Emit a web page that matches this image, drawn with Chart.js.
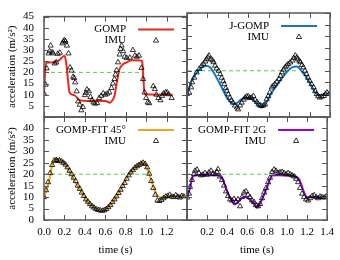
<!DOCTYPE html>
<html>
<head>
<meta charset="utf-8">
<script src="https://cdn.jsdelivr.net/npm/chart.js@4.4.0/dist/chart.umd.min.js"></script>
<style>
  html, body { margin: 0; padding: 0; background: #fff; }
  #wrap { position: relative; width: 340px; height: 260px; }
  #wrap canvas { position: absolute; left: 0; top: 0; }
</style>
</head>
<body>
<div id="wrap">
  <canvas id="tl" width="340" height="260"></canvas>
  <canvas id="tr" width="340" height="260"></canvas>
  <canvas id="bl" width="340" height="260"></canvas>
  <canvas id="br" width="340" height="260"></canvas>
</div>
<script>
// ticks
const xTickVals = [0, 0.2, 0.4, 0.6, 0.8, 1.0, 1.2, 1.4];
const yTickVals = [0, 5, 10, 15, 20, 25, 30, 35, 40, 45];
const targetLevel = 20;

// top left: GOMP
const gompT = [0, 0.008, 0.02, 0.1, 0.15, 0.2, 0.215, 0.236, 0.25, 0.3, 0.35, 0.42, 0.5, 0.6, 0.645, 0.67, 0.69, 0.715, 0.74, 0.77, 0.81, 0.86, 0.95, 0.962, 0.972, 0.985, 1.26];
const gompV = [10.5, 18, 24.3, 24.5, 25.5, 27.5, 25, 16, 11, 9.7, 7.5, 7.2, 7.3, 7.2, 6.4, 7.5, 9.5, 16, 21.5, 23.5, 24.5, 25.4, 25.3, 24.5, 18, 10.2, 10.0];
const gompImuT = [0, 0.016, 0.026, 0.045, 0.055, 0.065, 0.078, 0.09, 0.105, 0.12, 0.135, 0.155, 0.18, 0.19, 0.2, 0.21, 0.225, 0.24, 0.255, 0.27, 0.285, 0.295, 0.305, 0.32, 0.335, 0.35, 0.365, 0.38, 0.4, 0.41, 0.42, 0.44, 0.455, 0.47, 0.485, 0.5, 0.52, 0.54, 0.56, 0.58, 0.6, 0.62, 0.64, 0.66, 0.675, 0.69, 0.7, 0.71, 0.725, 0.74, 0.75, 0.76, 0.775, 0.79, 0.81, 0.84, 0.87, 0.89, 0.91, 0.93, 0.955, 0.97, 0.985, 1.0, 1.015, 1.03, 1.07, 1.085, 1.1, 1.12, 1.14, 1.155, 1.17, 1.19, 1.205, 1.22, 1.25];
const gompImuV = [10.5, 14.5, 21.8, 28.5, 29.5, 32.0, 29.0, 28.5, 24.0, 24.5, 28.3, 28.8, 33.0, 33.8, 34.5, 34.0, 32.0, 28.5, 22.2, 20.8, 18.0, 17.5, 15.5, 11.5, 7.0, 5.5, 3.0, 4.5, 9.8, 10.8, 12.3, 11.5, 9.0, 7.5, 6.5, 6.0, 6.2, 8.5, 9.5, 10.6, 10.0, 10.5, 11.0, 13.0, 15.0, 17.0, 19.0, 21.0, 24.5, 28.0, 30.5, 32.0, 29.5, 27.0, 26.5, 26.6, 30.0, 27.5, 27.0, 27.5, 22.0, 17.0, 11.0, 8.5, 6.5, 6.2, 13.8, 12.5, 10.0, 8.5, 7.5, 9.5, 10.5, 11.0, 11.0, 10.2, 8.5];

// top right: J-GOMP
const jgompT = [0, 0.046, 0.11, 0.18, 0.225, 0.27, 0.34, 0.4, 0.47, 0.5, 0.57, 0.63, 0.68, 0.725, 0.765, 0.83, 0.9, 0.96, 1.03, 1.075, 1.12, 1.19, 1.255, 1.29, 1.4];
const jgompV = [9.9, 15.7, 20, 22.2, 21.5, 18.6, 12.8, 7.7, 5.5, 6.5, 8.4, 8, 6, 4.1, 5.5, 10.6, 15, 18.6, 21.5, 21.8, 20, 15.7, 10.6, 9.4, 9.9];
const jgompImuT = [0, 0.02, 0.04, 0.05, 0.07, 0.095, 0.12, 0.144, 0.16, 0.18, 0.19, 0.205, 0.215, 0.235, 0.25, 0.26, 0.275, 0.29, 0.31, 0.325, 0.34, 0.355, 0.366, 0.38, 0.39, 0.405, 0.42, 0.435, 0.45, 0.47, 0.49, 0.5, 0.52, 0.535, 0.555, 0.57, 0.585, 0.6, 0.615, 0.63, 0.65, 0.667, 0.685, 0.7, 0.715, 0.73, 0.75, 0.765, 0.78, 0.795, 0.81, 0.83, 0.845, 0.86, 0.88, 0.9, 0.915, 0.93, 0.945, 0.96, 0.975, 0.99, 1.01, 1.03, 1.045, 1.06, 1.075, 1.085, 1.1, 1.11, 1.125, 1.14, 1.155, 1.17, 1.185, 1.2, 1.22, 1.24, 1.255, 1.27, 1.285, 1.3, 1.32, 1.34, 1.355, 1.37, 1.39];
const jgompImuV = [9.9, 10.6, 12.8, 15, 17, 19.3, 20.8, 22.2, 23, 24, 25, 25.8, 26.6, 25, 24.5, 23.7, 22.2, 21, 20, 18.5, 17, 15.5, 14.2, 12.5, 11.3, 9.8, 8.4, 7.2, 6.2, 5, 4.1, 3.3, 5, 6.2, 7.5, 8.4, 8.9, 8.9, 8.2, 8.4, 9.1, 7.4, 6.5, 5.5, 5, 4.8, 5, 5.5, 7.7, 9, 10.6, 12.8, 13.5, 14.2, 15.3, 16.4, 17.8, 19.3, 20.5, 21.5, 22.2, 22.9, 23.6, 24.4, 25.5, 26.6, 25.8, 25, 24.3, 23.7, 22.5, 21.5, 20, 18.6, 17, 15.7, 14.2, 12.8, 11.2, 9.9, 9, 8.4, 8.8, 9.1, 10, 10.6, 9.9];

// bottom left: GOMP-FIT 45
const fit45T = [0, 0.045, 0.094, 0.126, 0.175, 0.24, 0.3, 0.37, 0.43, 0.5, 0.56, 0.61, 0.68, 0.76, 0.82, 0.89, 0.95, 0.99, 1.03, 1.08, 1.11, 1.18, 1.26, 1.38];
const fit45V = [9.8, 16.3, 25.8, 26.5, 26, 22, 17, 12, 7.6, 5, 3.9, 4.7, 8.3, 14, 19.2, 22.8, 25, 24.6, 20, 13.4, 10.5, 9.75, 10.5, 10.5];
const fit45ImuT = [0, 0.02, 0.04, 0.06, 0.08, 0.1, 0.12, 0.13, 0.15, 0.17, 0.19, 0.21, 0.23, 0.25, 0.27, 0.29, 0.31, 0.33, 0.35, 0.37, 0.39, 0.41, 0.43, 0.45, 0.47, 0.49, 0.51, 0.53, 0.55, 0.57, 0.59, 0.61, 0.63, 0.65, 0.67, 0.69, 0.71, 0.73, 0.75, 0.77, 0.79, 0.81, 0.83, 0.85, 0.87, 0.89, 0.91, 0.93, 0.95, 0.97, 0.99, 1.01, 1.03, 1.05, 1.07, 1.09, 1.11, 1.13, 1.15, 1.17, 1.19, 1.21, 1.23, 1.25, 1.27, 1.29, 1.31, 1.33, 1.35, 1.37];
const fit45ImuV = [10.0, 13.0, 16.5, 20.5, 24.0, 26.0, 26.2, 25.8, 26.0, 25.6, 25.0, 24.2, 23.0, 21.5, 20.0, 18.5, 17.0, 15.0, 13.6, 12.0, 10.5, 9.0, 8.0, 7.0, 6.0, 5.4, 4.8, 4.4, 4.2, 4.0, 4.3, 4.8, 5.6, 6.5, 7.8, 9.0, 10.3, 11.8, 13.2, 14.8, 16.2, 18.0, 19.5, 20.8, 21.8, 22.8, 23.5, 24.0, 24.6, 25.0, 24.5, 23.0, 20.2, 17.0, 14.0, 11.0, 8.5, 8.3, 8.8, 9.5, 10.2, 10.5, 11.0, 10.2, 10.0, 10.8, 10.2, 9.8, 10.5, 10.3];

// bottom right: GOMP-FIT 2G
const fit2gT = [0, 0.03, 0.06, 0.095, 0.21, 0.31, 0.356, 0.405, 0.454, 0.477, 0.52, 0.57, 0.62, 0.667, 0.7, 0.75, 0.8, 0.85, 0.9, 1.06, 1.12, 1.17, 1.2, 1.4];
const fit2gV = [9.75, 14, 19.2, 19.6, 19.6, 19.6, 17.8, 12, 7.9, 6.8, 8.3, 10.2, 9.2, 7.3, 5.4, 9.2, 14.3, 19.4, 19.6, 19.3, 17.8, 12, 9.9, 9.9];
const fit2gImuT = [0, 0.02, 0.03, 0.05, 0.07, 0.08, 0.1, 0.12, 0.14, 0.16, 0.18, 0.2, 0.22, 0.24, 0.26, 0.28, 0.3, 0.31, 0.33, 0.35, 0.37, 0.39, 0.41, 0.43, 0.45, 0.47, 0.49, 0.51, 0.53, 0.55, 0.57, 0.59, 0.61, 0.63, 0.65, 0.67, 0.69, 0.71, 0.73, 0.75, 0.77, 0.79, 0.81, 0.83, 0.85, 0.87, 0.89, 0.91, 0.93, 0.95, 0.97, 0.99, 1.01, 1.03, 1.05, 1.07, 1.09, 1.11, 1.13, 1.15, 1.17, 1.19, 1.21, 1.23, 1.25, 1.27, 1.29, 1.31, 1.33, 1.35, 1.37, 1.39];
const fit2gImuV = [9.8, 11.5, 14.5, 17.5, 20.0, 21.5, 22.0, 20.5, 19.5, 19.8, 20.5, 19.8, 20.8, 21.5, 20.2, 20.0, 21.0, 22.2, 19.0, 17.5, 15.0, 12.5, 10.5, 9.0, 8.5, 9.2, 8.0, 9.0, 6.0, 10.0, 12.0, 12.5, 11.0, 10.0, 8.5, 7.8, 6.5, 6.0, 7.0, 9.5, 12.0, 14.0, 16.5, 18.5, 21.0, 22.0, 21.5, 20.5, 20.8, 21.0, 20.5, 20.0, 20.5, 20.0, 19.5, 19.0, 18.0, 16.5, 14.0, 11.5, 10.0, 9.0, 8.5, 9.5, 10.5, 10.8, 10.0, 9.5, 10.2, 10.0, 9.8, 10.2];

const toXY = (t, v) => t.map((x, i) => ({ x: x, y: v[i] }));

Chart.defaults.font.family = "'Liberation Serif', 'DejaVu Serif', serif";
Chart.defaults.font.size = 11;
Chart.defaults.color = "#000";

// gnuplot style border with inward ticks on all four sides
const gpFrame = {
  id: "gpFrame",
  afterDatasetsDraw(chart) {
    const { ctx, chartArea: a, scales } = chart;
    const x = scales.x, y = scales.y;
    ctx.save();
    ctx.strokeStyle = "#555";
    ctx.lineWidth = 1;
    ctx.beginPath();
    xTickVals.forEach((v) => {
      const px = Math.round(x.getPixelForValue(v)) + 0.5;
      ctx.moveTo(px, a.bottom); ctx.lineTo(px, a.bottom - 5);
      ctx.moveTo(px, a.top); ctx.lineTo(px, a.top + 5);
    });
    yTickVals.forEach((v) => {
      const py = Math.round(y.getPixelForValue(v)) + 0.5;
      ctx.moveTo(a.left, py); ctx.lineTo(a.left + 5, py);
      ctx.moveTo(a.right, py); ctx.lineTo(a.right - 5, py);
    });
    ctx.stroke();
    ctx.lineWidth = 1.5;
    ctx.strokeRect(a.left, a.top, a.right - a.left, a.bottom - a.top);
    ctx.restore();
  },
};

// key in the upper right corner: text first, sample after
const gpLegend = {
  id: "gpLegend",
  afterDraw(chart, args, opts) {
    if (!opts || !opts.label) return;
    const { ctx, chartArea: a } = chart;
    ctx.save();
    ctx.font = "11px 'Liberation Serif', 'DejaVu Serif', serif";
    ctx.fillStyle = "#000";
    ctx.textAlign = "right";
    ctx.textBaseline = "middle";
    ctx.fillText(opts.label, a.right - 61, a.top + 13);
    ctx.fillText("IMU", a.right - 61, a.top + 24);
    ctx.strokeStyle = opts.color;
    ctx.lineWidth = 2;
    ctx.beginPath();
    ctx.moveTo(a.right - 49, a.top + 13);
    ctx.lineTo(a.right - 13, a.top + 13);
    ctx.stroke();
    const cx = a.right - 31, cy = a.top + 24, r = 3;
    ctx.strokeStyle = "#000";
    ctx.lineWidth = 0.8;
    ctx.beginPath();
    ctx.moveTo(cx, cy - r);
    ctx.lineTo(cx + r * 0.87, cy + r * 0.5);
    ctx.lineTo(cx - r * 0.87, cy + r * 0.5);
    ctx.closePath();
    ctx.stroke();
    ctx.restore();
  },
};

Chart.register(gpFrame, gpLegend);

function makePanel(id, p) {
  const ctx = document.getElementById(id).getContext("2d");
  return new Chart(ctx, {
    type: "line",
    data: {
      datasets: [
        {
          label: "IMU",
          data: toXY(p.imuT, p.imuV),
          showLine: false,
          pointStyle: "triangle",
          pointRadius: 3,
          pointBorderWidth: 0.8,
          pointBorderColor: "#000",
          pointBackgroundColor: "rgba(0,0,0,0)",
        },
        {
          label: p.label,
          data: toXY(p.lineT, p.lineV),
          borderColor: p.color,
          borderWidth: 2,
          pointRadius: 0,
          cubicInterpolationMode: "monotone",
        },
        {
          label: "target",
          data: [{ x: 0, y: targetLevel }, { x: p.targetEnd, y: targetLevel }],
          borderColor: "rgb(80,205,80)",
          borderWidth: 1,
          borderDash: [4, 3],
          pointRadius: 0,
        },
      ],
    },
    options: {
      responsive: false,
      animation: false,
      layout: { padding: p.padding },
      plugins: {
        legend: { display: false },
        tooltip: { enabled: false },
        gpLegend: { label: p.label, color: p.color },
      },
      scales: {
        x: {
          type: "linear",
          min: 0,
          max: 1.4,
          display: p.showX,
          afterBuildTicks: (s) => { s.ticks = xTickVals.map((v) => ({ value: v })); },
          afterFit: (s) => { s.height = p.showX ? 40 : 0; },
          grid: { display: false, drawTicks: false },
          border: { display: false },
          ticks: {
            padding: 6,
            autoSkip: false,
            maxRotation: 0,
            callback: (v) => (p.hideX.includes(v) ? "" : Number(v).toFixed(1)),
          },
          title: { display: true, text: "time (s)", padding: { top: 0, bottom: 3 } },
        },
        y: {
          min: 0,
          max: 45,
          display: p.showY,
          afterBuildTicks: (s) => { s.ticks = yTickVals.map((v) => ({ value: v })); },
          afterFit: (s) => { s.width = p.showY ? 44 : 0; },
          grid: { display: false, drawTicks: false },
          border: { display: false },
          ticks: {
            padding: 10,
            autoSkip: false,
            callback: (v) => (p.hideY.includes(v) ? "" : v),
          },
          title: { display: true, text: "acceleration (m/s²)", padding: { top: 6, bottom: 0 } },
        },
      },
    },
  });
}

makePanel("tl", {
  label: "GOMP", color: "#e8281c",
  lineT: gompT, lineV: gompV, imuT: gompImuT, imuV: gompImuV, targetEnd: 0.97,
  showX: false, showY: true, hideX: [], hideY: [0],
  padding: { left: 0, top: 13, right: 153, bottom: 143 },
});
makePanel("tr", {
  label: "J-GOMP", color: "#1b75bc",
  lineT: jgompT, lineV: jgompV, imuT: jgompImuT, imuV: jgompImuV, targetEnd: 1.08,
  showX: false, showY: false, hideX: [], hideY: [],
  padding: { left: 187, top: 13, right: 10, bottom: 143 },
});
makePanel("bl", {
  label: "GOMP-FIT 45°", color: "#eea51e",
  lineT: fit45T, lineV: fit45V, imuT: fit45ImuT, imuV: fit45ImuV, targetEnd: 1.02,
  showX: true, showY: true, hideX: [1.4], hideY: [45],
  padding: { left: 0, top: 117, right: 153, bottom: 0 },
});
makePanel("br", {
  label: "GOMP-FIT 2G", color: "#9400d3",
  lineT: fit2gT, lineV: fit2gV, imuT: fit2gImuT, imuV: fit2gImuV, targetEnd: 1.1,
  showX: true, showY: false, hideX: [0], hideY: [],
  padding: { left: 187, top: 117, right: 10, bottom: 0 },
});
</script>
</body>
</html>
